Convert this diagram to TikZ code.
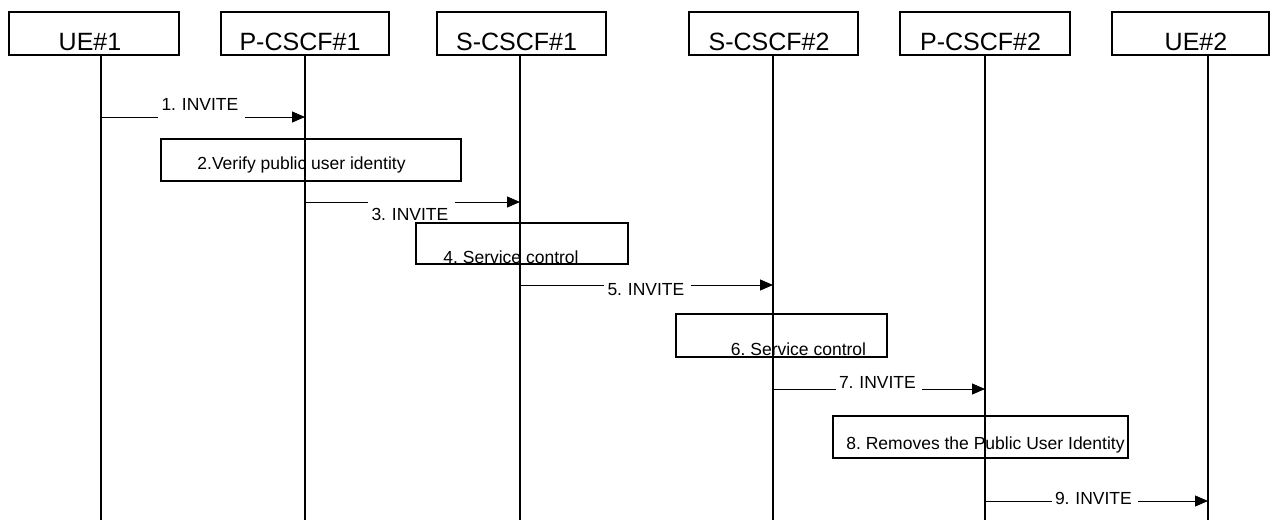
\documentclass[tikz,border=0pt]{standalone}
\usepackage{fontspec}
\setmainfont{Liberation Sans}
\usetikzlibrary{arrows.meta}
\frenchspacing
\begin{document}
\begin{tikzpicture}[x=1pt,y=-1pt,
  hdr/.style={draw,line width=1.6pt,minimum height=43pt,inner sep=0pt},
  hdrtext/.style={font=\fontsize{25}{25}\selectfont,anchor=base,inner sep=0pt},
  life/.style={line width=1.8pt},
  msg/.style={line width=0.9pt},
  arr/.style={msg,-{Triangle[length=13pt,width=11pt]}},
  mlabel/.style={font=\fontsize{17.5}{17.5}\selectfont,anchor=base,inner ysep=0pt,inner xsep=3pt,text width=80pt,align=left},
  boxstep/.style={draw,line width=1.6pt,inner sep=0pt},
  btext/.style={font=\fontsize{17.5}{17.5}\selectfont,anchor=base,inner sep=0pt}]
\useasboundingbox (0,0) rectangle (1271,520);

% headers
\node[hdr,minimum width=170pt] (ue1) at (94,33.5) {};
\node[hdrtext] (ue1t) at (90,50.7) {UE\#1};
\node[hdr,minimum width=168pt] (pc1) at (305,33.5) {};
\node[hdrtext] (pc1t) at (300,50.7) {P-CSCF\#1};
\node[hdr,minimum width=169pt] (sc1) at (521.5,33.5) {};
\node[hdrtext] (sc1t) at (516.5,50.7) {S-CSCF\#1};
\node[hdr,minimum width=169pt] (sc2) at (773.5,33.5) {};
\node[hdrtext] (sc2t) at (769,50.7) {S-CSCF\#2};
\node[hdr,minimum width=170pt] (pc2) at (985,33.5) {};
\node[hdrtext] (pc2t) at (980.5,50.7) {P-CSCF\#2};
\node[hdr,minimum width=157pt] (ue2) at (1190.5,33.5) {};
\node[hdrtext] (ue2t) at (1196,50.7) {UE\#2};

% lifelines
\coordinate (bot) at (0,520);
\coordinate (l1) at (101,55);
\coordinate (l2) at (305,55);
\coordinate (l3) at (520,55);
\coordinate (l4) at (773,55);
\coordinate (l5) at (985,55);
\coordinate (l6) at (1208,55);
\foreach \l in {l1,l2,l3,l4,l5,l6} {\draw[life] (\l) -- (\l |- bot);}

% processing boxes
\node[boxstep,minimum width=300pt,minimum height=42pt] (b2) at (311,160) {};
\node[btext] (b2t) at (301.5,169.5) {2.Verify public user identity};
\node[boxstep,minimum width=212pt,minimum height=41pt] (b4) at (522,243.5) {};
\node[btext] (b4t) at (511,263.3) {4. Service control};
\node[boxstep,minimum width=211pt,minimum height=43pt] (b6) at (781.5,335.5) {};
\node[btext] (b6t) at (798.5,355.7) {6. Service control};
\node[boxstep,minimum width=295pt,minimum height=42pt] (b8) at (980.5,437) {};
\node[btext] (b8t) at (985.5,449.3) {8. Removes the Public User Identity};

% messages
\coordinate (r1) at (0,117);
\node[mlabel] (m1) at (201.5,110) {1. INVITE};
\draw[msg] (l1 |- r1) -- (m1.west |- r1);
\draw[arr] (m1.east |- r1) -- (l2 |- r1);

\coordinate (r3) at (0,202);
\node[mlabel] (m3) at (411.5,220) {3. INVITE};
\draw[msg] (l2 |- r3) -- (m3.west |- r3);
\draw[arr] (m3.east |- r3) -- (l3 |- r3);

\coordinate (r5) at (0,285);
\node[mlabel] (m5) at (647.5,295) {5. INVITE};
\draw[msg] (l3 |- r5) -- (m5.west |- r5);
\draw[arr] (m5.east |- r5) -- (l4 |- r5);

\coordinate (r7) at (0,389);
\node[mlabel] (m7) at (879,388.3) {7. INVITE};
\draw[msg] (l4 |- r7) -- (m7.west |- r7);
\draw[arr] (m7.east |- r7) -- (l5 |- r7);

\coordinate (r9) at (0,501);
\node[mlabel] (m9) at (1095,504) {9. INVITE};
\draw[msg] (l5 |- r9) -- (m9.west |- r9);
\draw[arr] (m9.east |- r9) -- (l6 |- r9);
\end{tikzpicture}
\end{document}
